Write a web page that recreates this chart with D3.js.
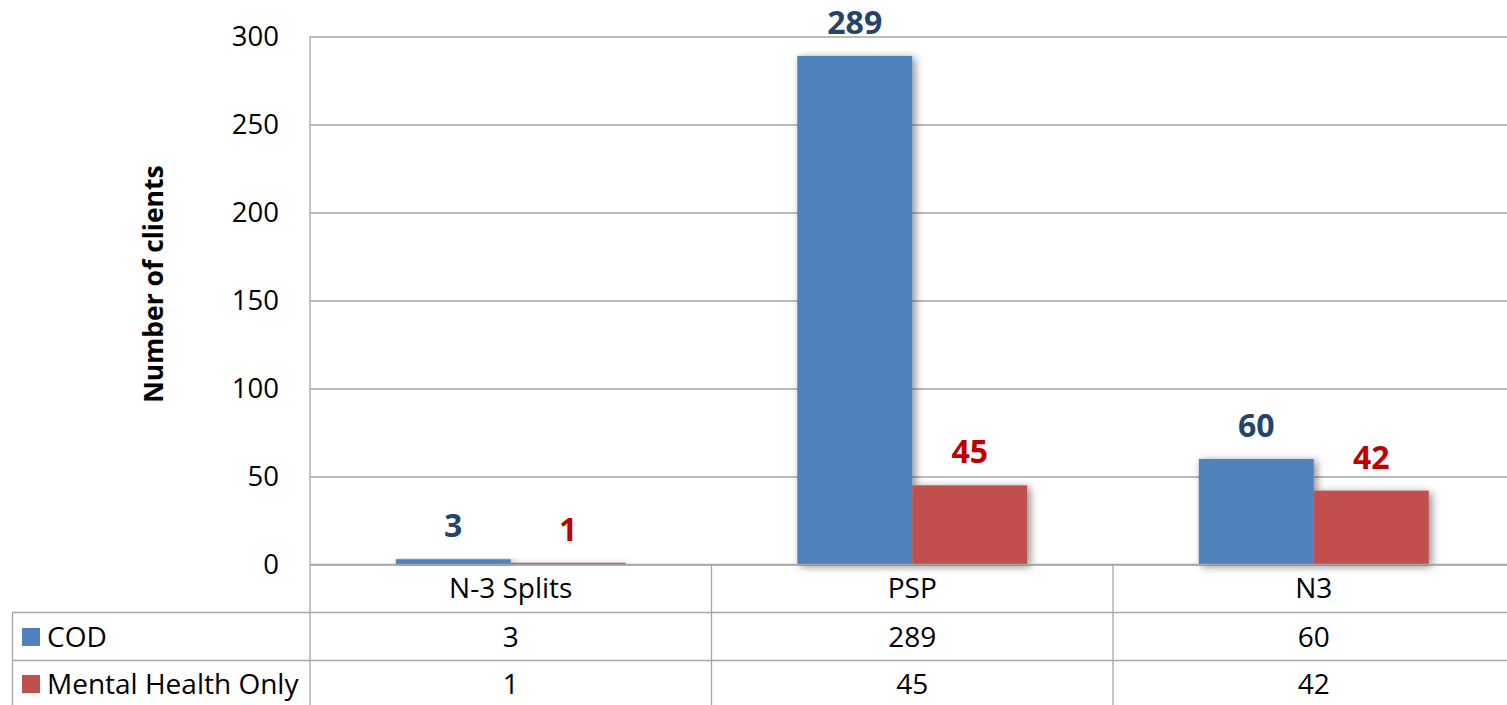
<!DOCTYPE html>
<html>
<head>
<meta charset="utf-8">
<script src="https://cdn.jsdelivr.net/npm/d3@7/dist/d3.min.js"></script>
<style>
  html, body { margin: 0; padding: 0; background: #fff; overflow: hidden; }
  svg { display: block; }
  text { font-family: "Open Sans", sans-serif; fill: #000; }
</style>
</head>
<body>
<svg id="chart" width="1507" height="705"></svg>
<script>
// ---- data ----
const categories = ["N-3 Splits", "PSP", "N3"];
const seriesNames = ["COD", "Mental Health Only"];
const codValues = [3, 289, 60];
const mhValues = [1, 45, 42];
const yTicks = [0, 50, 100, 150, 200, 250, 300];
const seriesColors = ["#4F81BD", "#C0504D"];
const labelColors = ["#24446C", "#C00000"];
const yTitle = "Number of clients";

const seriesValues = [codValues, mhValues];

const svg = d3.select("#chart");
const W = 1507;
const plotLeft = 310, plotTop = 36.5, plotBottom = 564.5;
const bandW = 401.5;
const plotRight = plotLeft + bandW * categories.length;
const rowH = [564.5, 612.5, 660.5, 709];
const tableLeft = 12.5;
const gridColor = "#a6a6a6";

const x = d3.scaleBand().domain(categories).range([plotLeft, plotRight]).padding(0);
const x1 = d3.scaleBand().domain(seriesNames).range([0, x.bandwidth()]).paddingInner(0).paddingOuter(0.746);
const y = d3.scaleLinear().domain([0, 300]).range([plotBottom, plotTop]);

// shadow filter
const defs = svg.append("defs");
const f = defs.append("filter").attr("id", "shadow").attr("x", "-20%").attr("y", "-20%").attr("width", "140%").attr("height", "140%");
f.append("feDropShadow").attr("dx", 3).attr("dy", 2).attr("stdDeviation", 4)
  .attr("flood-color", "#000").attr("flood-opacity", 0.45);

// gridlines + y axis
const yAxis = d3.axisLeft(y).tickValues(yTicks).tickSizeInner(-(W - plotLeft + 20)).tickSizeOuter(0).tickPadding(31);
const gy = svg.append("g").attr("transform", `translate(${plotLeft},0)`).call(yAxis);
gy.select(".domain").remove();
gy.selectAll(".tick line").attr("stroke", gridColor).attr("stroke-width", 1.3);
gy.selectAll(".tick text").attr("font-size", 27.5).attr("font-family", "Open Sans, sans-serif").attr("fill", "#000");

// axis title
svg.append("text")
  .attr("transform", `translate(163,284) rotate(-90)`)
  .attr("text-anchor", "middle")
  .attr("font-size", 26.5)
  .attr("font-weight", "bold")
  .text(yTitle);

// bars
const groups = svg.append("g").selectAll("g").data(categories).join("g")
  .attr("transform", d => `translate(${x(d)},0)`)
  .attr("filter", "url(#shadow)");
groups.selectAll("rect").data((c, i) => seriesNames.map((s, j) => ({ s, j, v: seriesValues[j][i] })))
  .join("rect")
  .attr("x", d => x1(d.s))
  .attr("width", x1.bandwidth())
  .attr("y", d => y(d.v))
  .attr("height", d => y(0) - y(d.v))
  .attr("fill", d => seriesColors[d.j]);

// value labels
const lbl = svg.append("g");
categories.forEach((c, i) => {
  seriesNames.forEach((s, j) => {
    const v = seriesValues[j][i];
    lbl.append("text")
      .attr("x", x(c) + x1(s) + x1.bandwidth() / 2)
      .attr("y", y(v) - 22)
      .attr("text-anchor", "middle")
      .attr("font-size", 32)
      .attr("font-weight", "bold")
      .style("fill", labelColors[j])
      .text(v);
  });
});

// table lines
const lines = svg.append("g").attr("stroke", gridColor).attr("stroke-width", 1.3).attr("fill", "none");
lines.append("line").attr("x1", plotLeft).attr("x2", W + 10).attr("y1", y(0)).attr("y2", y(0));
[rowH[1], rowH[2]].forEach(yy => lines.append("line").attr("x1", tableLeft).attr("x2", W + 10).attr("y1", yy).attr("y2", yy));
lines.append("line").attr("x1", tableLeft).attr("x2", tableLeft).attr("y1", rowH[1]).attr("y2", rowH[3]);
lines.append("line").attr("x1", plotLeft).attr("x2", plotLeft).attr("y1", plotTop).attr("y2", rowH[3]);
categories.slice(1).forEach(c => lines.append("line").attr("x1", x(c)).attr("x2", x(c)).attr("y1", rowH[0]).attr("y2", rowH[3]));

// table header (categories)
const tbl = svg.append("g");
const tfs = 28;
categories.forEach(c => {
  tbl.append("text").attr("x", x(c) + x.bandwidth() / 2).attr("y", (rowH[0] + rowH[1]) / 2)
    .attr("dy", "0.35em").attr("text-anchor", "middle").attr("font-size", tfs).text(c);
});
// rows
const rowCenters = [637, 684];
seriesNames.forEach((s, j) => {
  const cy = rowCenters[j];
  tbl.append("rect").attr("x", 22).attr("y", cy - 9).attr("width", 18).attr("height", 18).attr("fill", seriesColors[j]);
  tbl.append("text").attr("x", 47).attr("y", cy).attr("dy", "0.35em").attr("font-size", tfs).text(s);
  categories.forEach((c, i) => {
    tbl.append("text").attr("x", x(c) + x.bandwidth() / 2).attr("y", cy).attr("dy", "0.35em")
      .attr("text-anchor", "middle").attr("font-size", tfs).text(seriesValues[j][i]);
  });
});
</script>
</body>
</html>
